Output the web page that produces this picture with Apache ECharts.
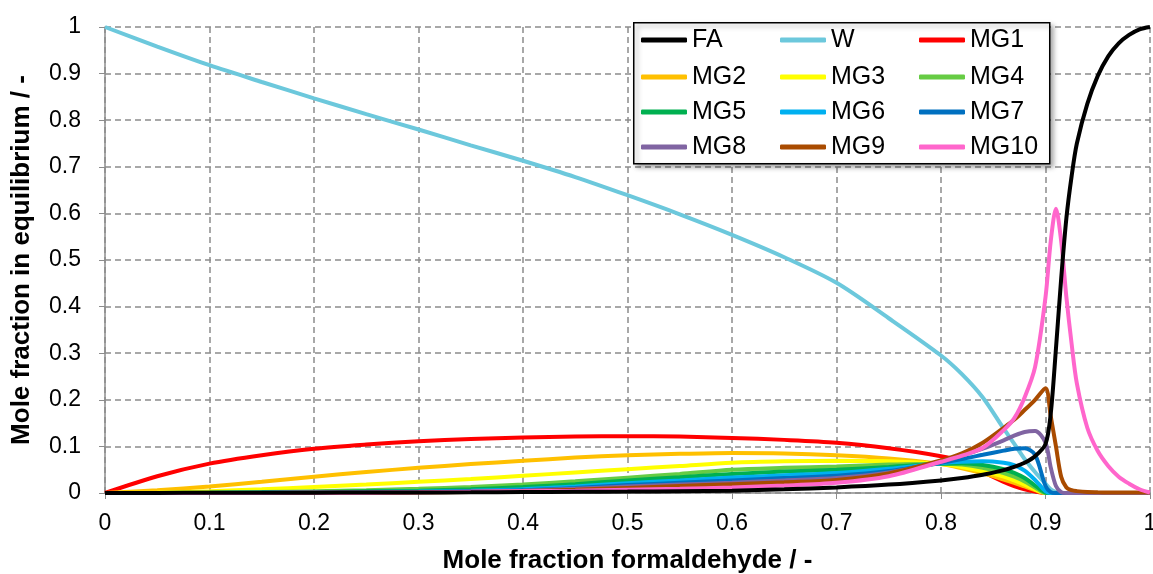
<!DOCTYPE html>
<html><head><meta charset="utf-8">
<script src="https://cdn.jsdelivr.net/npm/echarts@6/dist/echarts.min.js"></script>
<style>html,body{margin:0;padding:0;background:#fff;overflow:hidden}#c{width:100vw;height:100vh}</style>
</head><body><div id="c"></div>
<script>
// Shared x values (mole fraction formaldehyde)
var X = [0,0.05,0.1,0.15,0.2,0.25,0.3,0.35,0.4,0.45,0.5,0.55,0.6,0.65,0.7,0.75,0.8,0.82,0.84,0.86,0.87,0.88,0.89,0.9,0.905,0.91,0.915,0.92,0.925,0.93,0.94,0.95,0.96,0.97,0.98,0.99,1.0];
var FA = [0,0.0002,0.0004,0.0006,0.0008,0.001,0.0012,0.0015,0.002,0.0025,0.003,0.004,0.005,0.008,0.012,0.018,0.027,0.032,0.039,0.049,0.056,0.065,0.079,0.105,0.17,0.31,0.46,0.59,0.68,0.75,0.835,0.895,0.937,0.965,0.983,0.995,1.0];
var W = [1,0.958,0.918,0.882,0.847,0.813,0.78,0.746,0.713,0.678,0.639,0.598,0.554,0.506,0.451,0.375,0.295,0.255,0.205,0.138,0.106,0.073,0.045,0.02,0.008,0.002,0,0,0,0,0,0,0,0,0,0,0];
var MG1 = [0,0.036,0.063,0.081,0.095,0.104,0.111,0.116,0.119,0.121,0.122,0.121,0.118,0.114,0.108,0.096,0.079,0.068,0.045,0.024,0.015,0.008,0.003,0,0,0,0,0,0,0,0,0,0,0,0,0,0];
var MG2 = [0,0.006,0.014,0.024,0.035,0.045,0.054,0.062,0.069,0.076,0.081,0.084,0.086,0.085,0.081,0.074,0.062,0.053,0.042,0.029,0.022,0.014,0.006,0,0,0,0,0,0,0,0,0,0,0,0,0,0];
var MG3 = [0,0.001,0.004,0.008,0.013,0.018,0.024,0.03,0.037,0.044,0.051,0.058,0.065,0.068,0.069,0.068,0.062,0.056,0.047,0.035,0.027,0.018,0.008,0,0,0,0,0,0,0,0,0,0,0,0,0,0];
var MG4 = [0,0.0002,0.001,0.002,0.004,0.006,0.009,0.013,0.018,0.025,0.033,0.041,0.05,0.054,0.057,0.061,0.063,0.061,0.054,0.043,0.035,0.025,0.012,0,0,0,0,0,0,0,0,0,0,0,0,0,0];
var MG5 = [0,0.0001,0.0004,0.001,0.002,0.0035,0.005,0.008,0.013,0.019,0.027,0.034,0.041,0.046,0.05,0.056,0.063,0.064,0.06,0.051,0.043,0.032,0.016,0.001,0,0,0,0,0,0,0,0,0,0,0,0,0];
var MG6 = [0,0,0.0002,0.0005,0.001,0.002,0.003,0.005,0.008,0.014,0.021,0.027,0.033,0.038,0.043,0.052,0.064,0.067,0.068,0.065,0.06,0.048,0.028,0.004,0,0,0,0,0,0,0,0,0,0,0,0,0];
var MG7 = [0,0,0.0001,0.0003,0.0006,0.001,0.002,0.004,0.006,0.011,0.017,0.022,0.027,0.032,0.037,0.047,0.065,0.073,0.082,0.091,0.095,0.096,0.082,0.015,0.002,0,0,0,0,0,0,0,0,0,0,0,0];
var MG8 = [0,0,0,0.0002,0.0004,0.0008,0.0015,0.003,0.005,0.009,0.014,0.018,0.022,0.027,0.032,0.044,0.067,0.08,0.095,0.113,0.123,0.131,0.133,0.108,0.055,0.015,0.002,0,0,0,0,0,0,0,0,0,0];
var MG9 = [0,0,0,0.0001,0.0003,0.0006,0.001,0.002,0.004,0.007,0.011,0.015,0.019,0.023,0.028,0.042,0.07,0.085,0.108,0.14,0.157,0.178,0.2,0.225,0.165,0.1,0.035,0.012,0.006,0.004,0.002,0.0015,0.0012,0.001,0.001,0.001,0.001];
var MG10 = [0,0,0.0001,0.0002,0.0004,0.0008,0.0015,0.0025,0.004,0.005,0.007,0.009,0.012,0.016,0.022,0.036,0.067,0.08,0.097,0.135,0.16,0.205,0.27,0.42,0.54,0.61,0.54,0.42,0.32,0.235,0.14,0.09,0.058,0.035,0.02,0.008,0.001];

var names = ['FA','W','MG1','MG2','MG3','MG4','MG5','MG6','MG7','MG8','MG9','MG10'];
var values = [FA,W,MG1,MG2,MG3,MG4,MG5,MG6,MG7,MG8,MG9,MG10];
var colors = ['#000000','#6cc8dc','#ff0000','#ffc000','#ffff00','#66cc44','#00b050','#00b0f0','#0070c0','#8064a2','#a94b00','#ff66cc'];

var chart = echarts.init(document.getElementById('c'), null, {renderer:'canvas'});
var font = 'Liberation Sans, Arial, sans-serif';

var series = names.map(function(n, k){
  return {
    name: n, type: 'line', showSymbol: false, symbol: 'none', smooth: 0.3,
    z: n === 'FA' ? 4 : 2,
    lineStyle: {color: colors[k], width: 4},
    itemStyle: {color: colors[k]},
    data: X.map(function(x, i){ return [x, values[k][i]]; })
  };
});

var rowTops = [26, 63, 98, 133];
var legends = [0,1,2,3].map(function(r){
  return {
    left: 641, top: rowTops[r], orient: 'horizontal', padding: 0, z: 20,
    itemWidth: 46, itemHeight: 5, itemGap: 5, icon: 'roundRect',
    textStyle: {fontFamily: font, fontSize: 25, color: '#000', width: 83, lineHeight: 28},
    data: names.slice(r*3, r*3+3)
  };
});

chart.setOption({
  animation: false,
  backgroundColor: '#fff',
  grid: {left: 105, right: 3, top: 27, bottom: 81, containLabel: false, outerBoundsMode: 'none'},
  graphic: [{
    type: 'rect', z: 15, left: 633, top: 22,
    shape: {width: 416, height: 141},
    style: {fill: '#fff', stroke: '#000', lineWidth: 1.5, shadowBlur: 5, shadowOffsetX: 3, shadowOffsetY: 3, shadowColor: 'rgba(0,0,0,0.35)'}
  }],
  legend: legends,
  xAxis: {
    type: 'value', min: 0, max: 1, interval: 0.1,
    name: 'Mole fraction formaldehyde / -', nameLocation: 'middle', nameGap: 55,
    nameTextStyle: {fontFamily: font, fontSize: 26, fontWeight: 'bold', color: '#000'},
    axisLine: {show: true, lineStyle: {color: '#8c8c8c', width: 1.5}},
    axisTick: {show: true, inside: false, length: 6, lineStyle: {color: '#8c8c8c'}},
    axisLabel: {fontFamily: font, fontSize: 23, color: '#000', margin: 19},
    splitLine: {show: true, lineStyle: {color: '#8c8c8c', width: 1.5, type: [6, 4]}}
  },
  yAxis: {
    type: 'value', min: 0, max: 1, interval: 0.1,
    name: 'Mole fraction in equilibrium / -', nameLocation: 'middle', nameGap: 70,
    nameTextStyle: {fontFamily: font, fontSize: 26, fontWeight: 'bold', color: '#000'},
    axisLine: {show: true, lineStyle: {color: '#8c8c8c', width: 1.5}},
    axisTick: {show: true, inside: false, length: 6, lineStyle: {color: '#8c8c8c'}},
    axisLabel: {fontFamily: font, fontSize: 23, color: '#000', margin: 24},
    splitLine: {show: true, lineStyle: {color: '#8c8c8c', width: 1.5, type: [6, 4]}}
  },
  series: series
});
</script></body></html>
